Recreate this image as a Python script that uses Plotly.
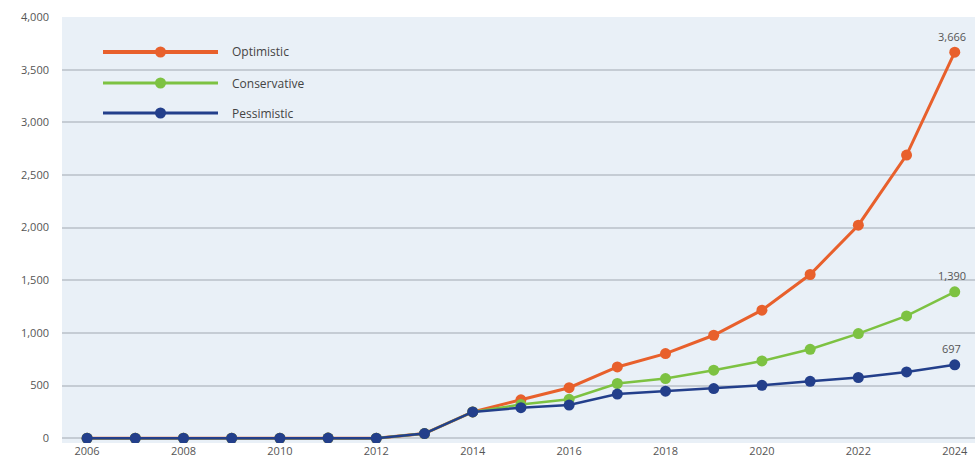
import plotly.graph_objects as go

years = list(range(2006, 2025))
optimistic =   [0, 0, 0, 0, 0, 2, 0, 45, 250, 365, 480, 677, 804, 978, 1216, 1555, 2023, 2689, 3666]
conservative = [0, 0, 0, 0, 0, 2, 0, 45, 250, 320, 370, 520, 567, 646, 734, 845, 994, 1162, 1390]
pessimistic =  [0, 0, 0, 0, 0, 2, 0, 45, 250, 290, 315, 420, 447, 472, 503, 541, 577, 630, 697]

names = ["Optimistic", "Conservative", "Pessimistic"]
colors = ["#e8602c", "#7dc242", "#233f8b"]
series = [optimistic, conservative, pessimistic]
widths = [3, 2.5, 2.5]
msizes = [11, 11, 11]
end_labels = ["3,666", "1,390", "697"]

W, H = 975, 469
ml, mr, mt, mb = 62, 0, 17, 26

fig = go.Figure()
for n, c, s, w, m in zip(names, colors, series, widths, msizes):
    fig.add_trace(go.Scatter(x=years, y=s, name=n, mode="lines+markers",
                             line=dict(color=c, width=w),
                             marker=dict(color=c, size=m),
                             showlegend=False))

ann = []
for s, lab in zip(series, end_labels):
    ann.append(dict(x=years[-1], y=s[-1], text=lab, showarrow=False,
                    xref="x", yref="y", yshift=16, xshift=-3,
                    font=dict(size=11, color="#555555")))

# manual legend (long line swatches)
pw, ph = W - ml - mr, H - mt - mb
def px(x):
    return (x - ml) / pw
def py(y):
    return 1 - (y - mt) / ph

shapes = []
leg_y = [52, 83, 113]
for n, c, yy, w in zip(names, colors, leg_y, [4, 3, 3]):
    shapes.append(dict(type="line", xref="paper", yref="paper",
                       x0=px(103), x1=px(218), y0=py(yy), y1=py(yy),
                       line=dict(color=c, width=w)))
    shapes.append(dict(type="circle", xref="paper", yref="paper",
                       x0=px(155), x1=px(166), y0=py(yy - 5.5), y1=py(yy + 5.5),
                       fillcolor=c, line=dict(color=c, width=0)))
    ann.append(dict(x=px(230), y=py(yy), xref="paper", yref="paper", text=n,
                    showarrow=False, xanchor="left", yanchor="middle",
                    font=dict(size=12, color="#444444")))

fig.update_layout(
    width=W, height=H,
    margin=dict(l=ml, r=mr, t=mt, b=mb),
    paper_bgcolor="white",
    plot_bgcolor="#e9f0f7",
    font=dict(family="Open Sans, sans-serif", size=11, color="#555555"),
    showlegend=False,
    annotations=ann,
    shapes=shapes,
    xaxis=dict(range=[2005.48, 2024.42], tickmode="array",
               tickvals=list(range(2006, 2025, 2)),
               showgrid=False, zeroline=False, showline=False,
               ticks="", tickfont=dict(size=11, color="#555555")),
    yaxis=dict(range=[-45, 4000], tickmode="array",
               tickvals=list(range(0, 4001, 500)), tickformat=",",
               showgrid=True, gridcolor="#c5ccd4", gridwidth=1.5,
               zeroline=False, showline=False, ticks="",
               ticklabelstandoff=12,
               tickfont=dict(size=11, color="#555555")),
)

fig.write_html("out.html", config={"displayModeBar": False})

# remove default page margin so the figure fills the window exactly
with open("out.html", "r", encoding="utf-8") as f:
    html = f.read()
html = html.replace("<head>", "<head><style>html,body{margin:0;padding:0;overflow:hidden}</style>", 1)
with open("out.html", "w", encoding="utf-8") as f:
    f.write(html)
